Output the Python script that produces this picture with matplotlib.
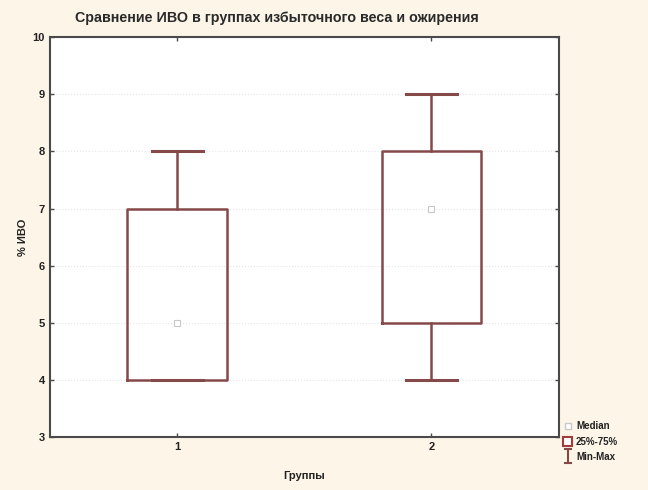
import numpy as np
import matplotlib
matplotlib.use('Agg')
import matplotlib.pyplot as plt
from matplotlib.lines import Line2D
from matplotlib.patches import Patch
from matplotlib.path import Path

# IVO percentages for the two groups (overweight / obesity)
groups = [1, 2]
medians = [5, 7]
q1 = [4, 5]
q3 = [7, 8]
mins = [4, 4]
maxs = [8, 9]

title = 'Сравнение ИВО в группах избыточного веса и ожирения'
ylabel = '% ИВО'
xlabel = 'Группы'
legend_labels = ['Median', '25%-75%', 'Min-Max']

plt.rcParams['font.family'] = ['Liberation Sans', 'DejaVu Sans']

bg = '#fcf5e8'
box_col = '#86494a'
spine_col = '#4a4a4a'

fig = plt.figure(figsize=(6.48, 4.9), dpi=100, facecolor=bg)
ax = fig.add_axes([0.077, 0.108, 0.785, 0.816])
ax.set_facecolor('white')

stats = []
for i in range(len(groups)):
    stats.append({'med': medians[i], 'q1': q1[i], 'q3': q3[i],
                  'whislo': mins[i], 'whishi': maxs[i], 'fliers': []})

ax.bxp(stats, positions=groups, widths=0.39, showfliers=False,
       boxprops=dict(color=box_col, linewidth=1.8),
       whiskerprops=dict(color=box_col, linewidth=1.8),
       capprops=dict(color=box_col, linewidth=2.2),
       medianprops=dict(visible=False), capwidths=0.2, zorder=3)
ax.plot(groups, medians, 's', ms=4, mfc='white', mec='#c8c8c8', mew=0.8,
        zorder=4)

ax.set_xlim(0.5, 2.5)
ax.set_ylim(3, 10)
ax.set_xticks(groups)
ax.set_yticks(np.arange(3, 11))
ax.yaxis.grid(True, color='#e6e6e6', linestyle=':', linewidth=0.8)
ax.set_axisbelow(True)
ax.tick_params(direction='in', length=3, width=1, colors=spine_col,
               labelcolor='#222222', labelsize=8, top=True, right=True)
for lab in ax.get_xticklabels() + ax.get_yticklabels():
    lab.set_fontweight('bold')
for sp in ax.spines.values():
    sp.set_color(spine_col)
    sp.set_linewidth(1.5)

ax.set_ylabel(ylabel, fontsize=8, fontweight='bold', color='#222222',
              labelpad=3)
ax.set_xlabel(xlabel, fontsize=8, fontweight='bold', color='#222222',
              labelpad=14)
fig.text(0.428, 0.963, title, ha='center', va='center', fontsize=10.3,
         fontweight='bold', color='#2a2a2a')

# I-beam marker for the min-max legend entry
ibeam = Path([(-0.6, -1), (0.6, -1), (0, -1), (0, 1), (-0.6, 1), (0.6, 1)],
             [Path.MOVETO, Path.LINETO, Path.MOVETO, Path.LINETO,
              Path.MOVETO, Path.LINETO])
handles = [
    Line2D([], [], marker='s', ms=4, mfc='white', mec='#c8c8c8',
           linestyle='none'),
    Patch(facecolor='white', edgecolor='#a03c3c', linewidth=1.5),
    Line2D([], [], marker=ibeam, ms=10, mfc='none', mec=box_col, mew=1.5,
           linestyle='none'),
]
leg = fig.legend(handles, legend_labels, loc='upper left',
                 bbox_to_anchor=(0.862, 0.15), frameon=False,
                 fontsize=7, handlelength=0.9, handleheight=1.0,
                 handletextpad=0.4, labelspacing=0.55, borderpad=0)
for t in leg.get_texts():
    t.set_fontweight('bold')
    t.set_color('#222222')

fig.savefig('out.png', dpi=100, facecolor=bg)
